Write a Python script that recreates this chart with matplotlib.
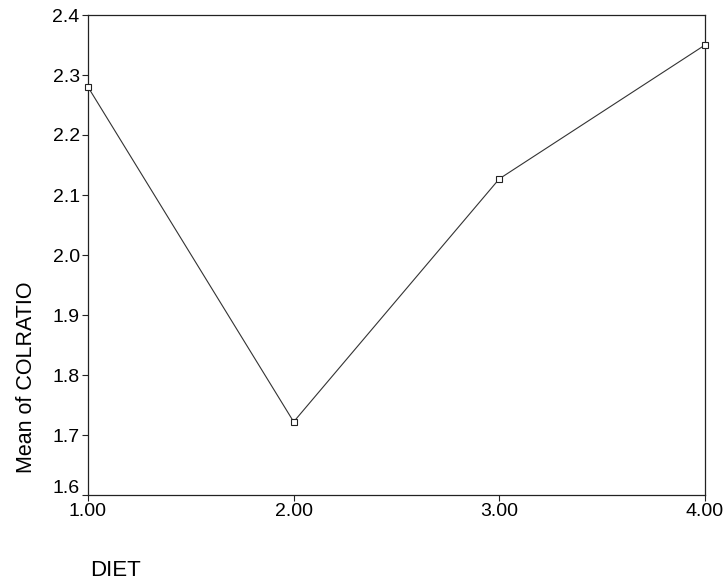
import matplotlib
matplotlib.use("Agg")
import matplotlib.pyplot as plt
import matplotlib.transforms as mtransforms

plt.rcParams["font.family"] = ["Liberation Sans", "DejaVu Sans"]

# group means
diet = [1.0, 2.0, 3.0, 4.0]
mean_colratio = [2.280, 1.722, 2.127, 2.350]
x_ticks = [1.0, 2.0, 3.0, 4.0]
x_labels = ["1.00", "2.00", "3.00", "4.00"]
y_ticks = [1.6, 1.7, 1.8, 1.9, 2.0, 2.1, 2.2, 2.3, 2.4]
y_labels = ["1.6", "1.7", "1.8", "1.9", "2.0", "2.1", "2.2", "2.3", "2.4"]

fig = plt.figure(figsize=(7.26, 5.82), dpi=100)
ax = fig.add_axes([88 / 726, 87 / 582, (705 - 88) / 726, (495 - 15) / 582])

ax.plot(diet, mean_colratio, color="#333333", lw=0.8,
        marker="s", markersize=5, markerfacecolor="white",
        markeredgecolor="#222222", markeredgewidth=0.8, clip_on=False, zorder=3)

ax.set_xlim(1.0, 4.0)
ax.set_ylim(1.6, 2.4)
ax.set_xticks(x_ticks)
ax.set_xticklabels(x_labels)
ax.set_yticks(y_ticks)
ax.set_yticklabels(y_labels)
ax.tick_params(axis="both", labelsize=14, length=4, width=0.8, color="#222222", pad=2)

for s in ax.spines.values():
    s.set_linewidth(0.9)
    s.set_color("#222222")

# the 1.6 label sits a little higher in the original
lab = ax.get_yticklabels()[0]
lab.set_transform(lab.get_transform() + mtransforms.ScaledTranslation(0, 6 / 72, fig.dpi_scale_trans))

fig.text(27 / 726, 1 - 377 / 582, "Mean of COLRATIO", rotation=90,
         fontsize=15.5, ha="center", va="center")
fig.text(90 / 726, 1 - 570 / 582, "DIET", fontsize=16, ha="left", va="center")

fig.savefig("out.png", dpi=100)
